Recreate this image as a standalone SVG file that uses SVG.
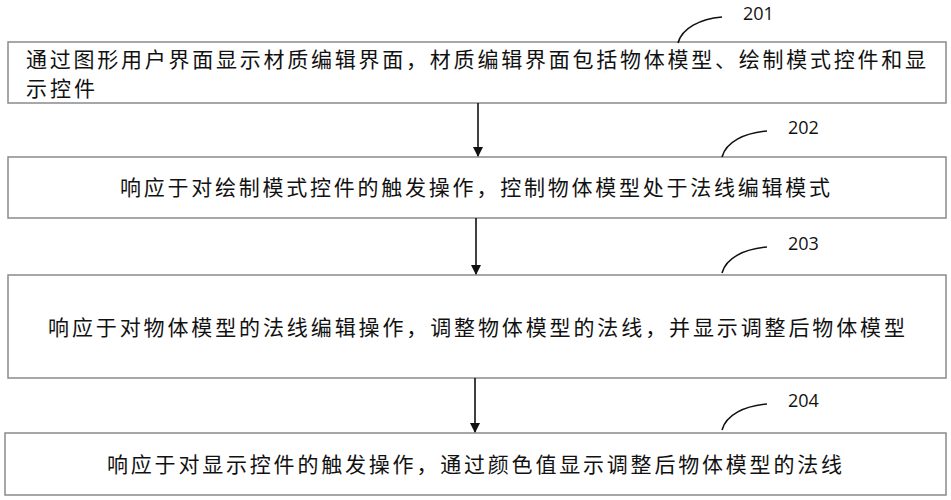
<svg xmlns="http://www.w3.org/2000/svg" width="951" height="500" viewBox="0 0 951 500">
<style>
.b{fill:#fff;stroke:#8a8a8a;stroke-width:1.5}
.t{font-family:"Noto Sans CJK SC",sans-serif;font-size:21px;fill:#111}
.n{font-family:"Open Sans","DejaVu Sans",sans-serif;font-size:18px;fill:#111}
.c{fill:none;stroke:#111;stroke-width:1.6}
</style>
<defs><marker id="a" markerWidth="10" markerHeight="10" refX="9" refY="5" orient="auto" markerUnits="userSpaceOnUse"><path d="M0,0L10,5L0,10z" fill="#111"/></marker></defs>
<rect width="951" height="500" fill="#fff"/>
<g id="n1"><rect class="b" x="8" y="42" width="938" height="61"/><text class="t" x="26" y="67" textLength="900" lengthAdjust="spacing">通过图形用户界面显示材质编辑界面，材质编辑界面包括物体模型、绘制模式控件和显</text><text class="t" x="26" y="96" textLength="69" lengthAdjust="spacing">示控件</text></g>
<g id="n2"><rect class="b" x="8" y="157" width="938" height="61"/><text class="t" x="120" y="195" textLength="710" lengthAdjust="spacing">响应于对绘制模式控件的触发操作，控制物体模型处于法线编辑模式</text></g>
<g id="n3"><rect class="b" x="8" y="275" width="938" height="103"/><text class="t" x="48" y="335" textLength="857" lengthAdjust="spacing">响应于对物体模型的法线编辑操作，调整物体模型的法线，并显示调整后物体模型</text></g>
<g id="n4"><rect class="b" x="5" y="433" width="941" height="62"/><text class="t" x="107" y="472" textLength="735" lengthAdjust="spacing">响应于对显示控件的触发操作，通过颜色值显示调整后物体模型的法线</text></g>
<g id="labels">
<path class="c" d="M678,43C682,28 700,19 722,17"/><text class="n" x="743" y="20">201</text>
<path class="c" d="M722,157C726,142 744,133 767,131"/><text class="n" x="788" y="134">202</text>
<path class="c" d="M722,273C726,258 744,249 767,247"/><text class="n" x="788" y="250">203</text>
<path class="c" d="M722,430C726,415 744,406 767,404"/><text class="n" x="788" y="407">204</text>
</g>
<g id="connectors" class="c" marker-end="url(#a)">
<line x1="478" y1="103" x2="478" y2="156"/>
<line x1="476" y1="218" x2="476" y2="274"/>
<line x1="475" y1="378" x2="475" y2="432"/>
</g>
</svg>
